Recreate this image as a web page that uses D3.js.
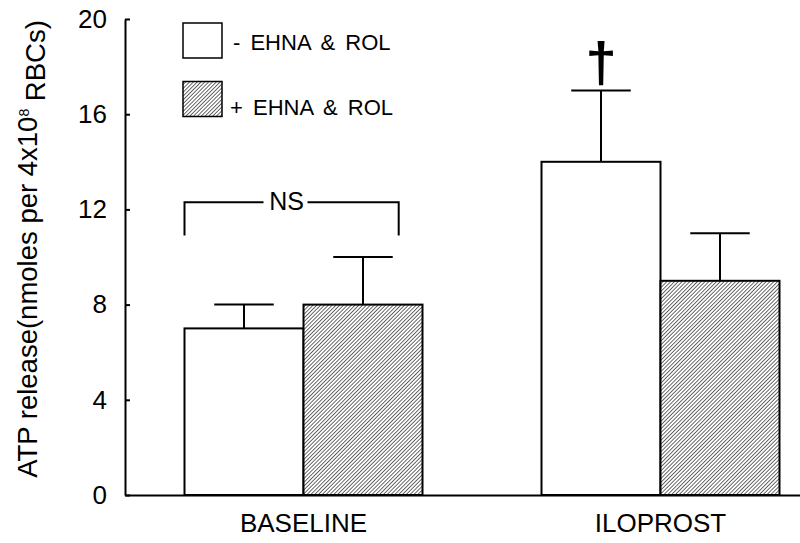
<!DOCTYPE html>
<html lang="en">
<head>
    <meta charset="UTF-8">
    <title>ATP release</title>
    <script src="https://cdn.jsdelivr.net/npm/d3@7"></script>
    <style>
        body { margin: 0; background: #fff; }
        text { font-family: "Liberation Sans", Arial, sans-serif; fill: #000; }
    </style>
</head>
<body>
<script>
    var width = 800;
    var height = 543;

    // data
    var categories = ["BASELINE", "ILOPROST"];
    var series = ["- EHNA & ROL", "+ EHNA & ROL"];
    var means = [[7, 8], [14, 9]];      // [category][series]
    var errors = [[1, 2], [3, 2]];
    var yTicks = [0, 4, 8, 12, 16, 20];
    var nsBracket = [12.3, 10.9];       // top, bottom of the NS bracket (y units)
    var daggerAt = 17.4;                // y value of the dagger baseline

    var svg = d3.select("body").append("svg")
        .attr("width", width).attr("height", height);

    // hatch pattern
    var hs = 2.7;
    var defs = svg.append("defs");
    defs.append("pattern")
        .attr("id", "hatch")
        .attr("patternUnits", "userSpaceOnUse")
        .attr("width", hs).attr("height", hs)
        .attr("patternTransform", "rotate(45)")
        .call(function (p) {
            p.append("rect").attr("width", hs).attr("height", hs).attr("fill", "#fff");
            p.append("line").attr("x1", 0).attr("y1", 0).attr("x2", 0).attr("y2", hs)
                .attr("stroke", "#222").attr("stroke-width", 1.35);
        });

    var fills = ["#fff", "url(#hatch)"];

    // scales
    var x0 = d3.scaleBand().domain(categories).range([125, 839]);
    var x1 = d3.scaleBand().domain(series).range([0, x0.bandwidth()]).paddingOuter(0.5);
    var y = d3.scaleLinear().domain([0, 20]).range([495, 19]);

    // bars
    var groups = svg.selectAll("g.grp")
        .data(categories)
        .enter().append("g")
        .attr("class", "grp")
        .attr("transform", function (d) { return "translate(" + x0(d) + ",0)"; });

    groups.each(function (cat, ci) {
        var g = d3.select(this);
        var rows = series.map(function (s, si) {
            return { s: s, si: si, v: means[ci][si], e: errors[ci][si] };
        });
        var bw = x1.bandwidth();
        // error bars (drawn first so the bar outline sits on top)
        rows.forEach(function (r) {
            var cx = x1(r.s) + bw / 2;
            g.append("line").attr("x1", cx).attr("x2", cx)
                .attr("y1", y(r.v)).attr("y2", y(r.v + r.e))
                .attr("stroke", "#000").attr("stroke-width", 2);
            g.append("line").attr("x1", cx - bw * 0.25).attr("x2", cx + bw * 0.25)
                .attr("y1", y(r.v + r.e)).attr("y2", y(r.v + r.e))
                .attr("stroke", "#000").attr("stroke-width", 2);
        });
        g.selectAll("rect")
            .data(rows)
            .enter().append("rect")
            .attr("x", function (r) { return x1(r.s); })
            .attr("y", function (r) { return y(r.v); })
            .attr("width", bw)
            .attr("height", function (r) { return y(0) - y(r.v); })
            .attr("fill", function (r) { return fills[r.si]; })
            .attr("stroke", "#000")
            .attr("stroke-width", 2);
    });

    // axes
    var yAxis = d3.axisLeft(y).tickValues(yTicks).tickSizeInner(-5).tickSizeOuter(0).tickPadding(18);
    var gy = svg.append("g").attr("transform", "translate(125,0)").call(yAxis);
    gy.selectAll("text").style("font-size", "26px");
    gy.selectAll("path, line").attr("stroke", "#000").attr("stroke-width", 2);

    var xAxis = d3.axisBottom(x0).tickSize(0).tickPadding(19);
    var gx = svg.append("g").attr("transform", "translate(0,495)").call(xAxis);
    gx.selectAll("text").style("font-size", "26px");
    gx.select("path").attr("stroke", "#000").attr("stroke-width", 2);

    // y title
    var yt = svg.append("text")
        .attr("transform", "translate(37,249) rotate(-90)")
        .attr("text-anchor", "middle")
        .style("font-size", "27.5px");
    yt.append("tspan").text("ATP release(nmoles per 4x10");
    yt.append("tspan").attr("dy", "-0.6em").style("font-size", "14px").text("8");
    yt.append("tspan").attr("dy", "0.6em").text(" RBCs)");

    // NS bracket
    var bw = x1.bandwidth();
    var bl = x0(categories[0]) + x1(series[0]);
    var br = bl + bw * 1.8;
    var nsX = 286.5;
    svg.append("path")
        .attr("d", "M" + bl + "," + y(nsBracket[1]) + "V" + y(nsBracket[0]) + "H" + (nsX - 23))
        .attr("fill", "none").attr("stroke", "#000").attr("stroke-width", 2);
    svg.append("path")
        .attr("d", "M" + (nsX + 21) + "," + y(nsBracket[0]) + "H" + br + "V" + y(nsBracket[1]))
        .attr("fill", "none").attr("stroke", "#000").attr("stroke-width", 2);
    svg.append("text").attr("x", nsX).attr("y", y(nsBracket[0]) + 8)
        .attr("text-anchor", "middle").style("font-size", "25px").text("NS");

    // dagger
    svg.append("text")
        .attr("x", x0(categories[1]) + x1(series[0]) + bw / 2)
        .attr("y", y(daggerAt))
        .attr("text-anchor", "middle")
        .style("font-size", "56px").style("font-weight", "bold")
        .text("\u2020");

    // legend
    var leg = svg.append("g").attr("transform", "translate(183,23)");
    var legRowY = [0, 58.5];
    var legTextY = [27, 92];
    series.forEach(function (s, i) {
        leg.append("rect").attr("x", 0).attr("y", legRowY[i]).attr("width", 39).attr("height", 35)
            .attr("fill", fills[i]).attr("stroke", "#000").attr("stroke-width", 1.5);
        leg.append("text").attr("x", i === 0 ? 50 : 47).attr("y", legTextY[i])
            .style("font-size", "22px").style("word-spacing", "4px").text(s);
    });
</script>
</body>
</html>
